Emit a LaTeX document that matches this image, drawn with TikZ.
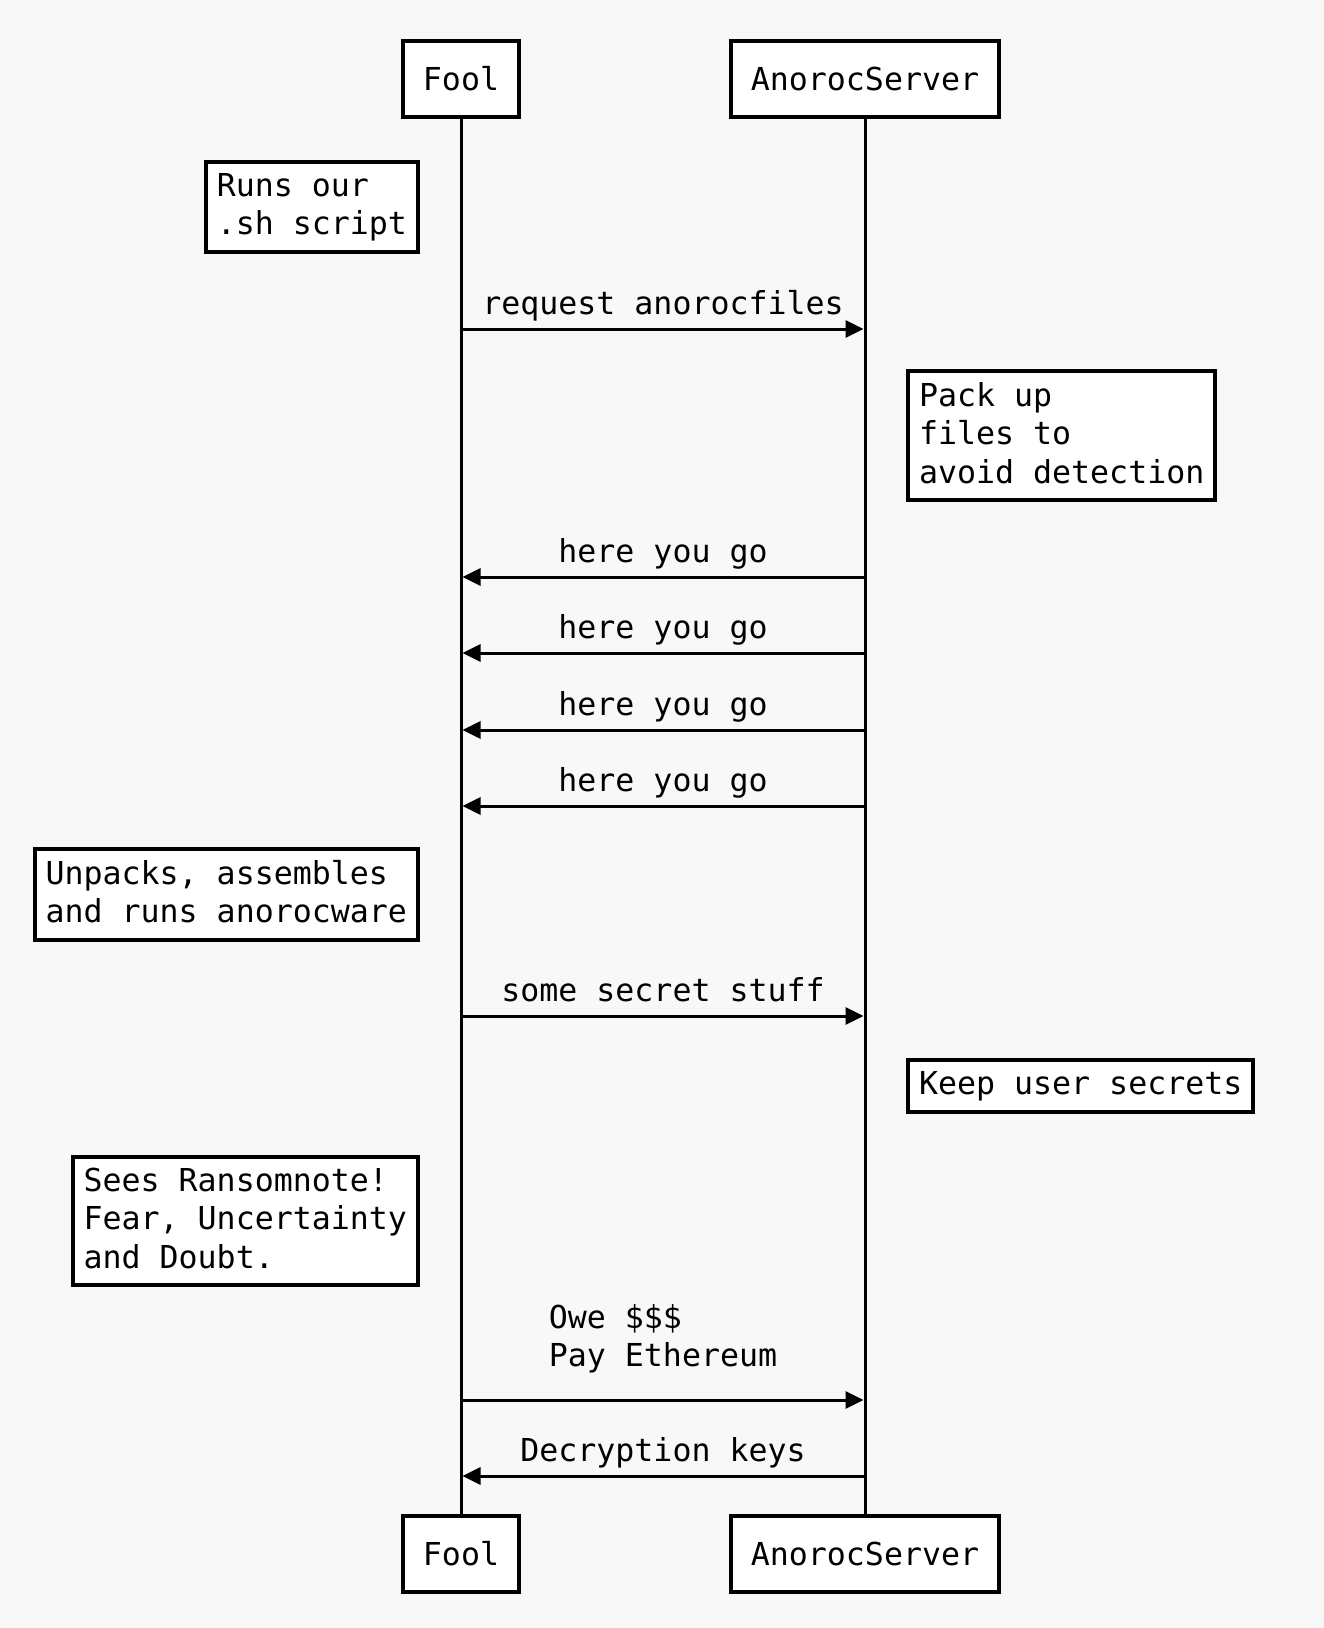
\documentclass[tikz,border=0pt]{standalone}
\usepackage{fontspec}
\setmonofont{DejaVu Sans Mono}
\usetikzlibrary{arrows.meta}
\definecolor{paper}{HTML}{F8F8F8}
\newcommand\seqfont{\ttfamily\fontsize{31.6pt}{38.5pt}\selectfont}
\newcommand\notestrut{\rule[-6pt]{0pt}{28pt}}

\begin{document}
\begin{tikzpicture}[x=1pt, y=-1pt,
	actor/.style={draw, line width=4pt, fill=white, font=\seqfont, minimum height=76pt, inner xsep=20pt},
	note/.style={draw, line width=4pt, fill=white, font=\seqfont, align=left, inner xsep=11pt, inner ysep=11pt,
		execute at begin node=\notestrut, execute at end node=\notestrut},
	msg/.style={line width=3pt, -{Triangle[length=18pt, width=17pt]}, shorten >=1.5pt},
	lbl/.style={font=\seqfont, anchor=base}]
			%%%%% START %%%%%
			
			\fill[paper] (0, 0) rectangle (1324, 1628);
			\useasboundingbox (0, 0) rectangle (1324, 1628);
			
			% participants
			\node[actor] (fool) at (461, 79) {Fool};
			\node[actor] (server) at (865, 79) {AnorocServer};
			\node[actor] (foolB) at (461, 1554) {Fool};
			\node[actor] (serverB) at (865, 1554) {AnorocServer};
			
			\draw[line width=3pt] (fool.south) -- (foolB.north);
			\draw[line width=3pt] (server.south) -- (serverB.north);
			
			% notes
			\node[note, anchor=north east] (runs) at (420, 160) {Runs our\\.sh script};
			\node[note, anchor=north west] (pack) at (906, 369) {Pack up\\files to\\avoid detection};
			\node[note, anchor=north east] (unpack) at (420, 847) {Unpacks, assembles\\and runs anorocware};
			\node[note, anchor=north west] (keep) at (906, 1058) {Keep user secrets};
			\node[note, anchor=north east] (sees) at (420, 1155) {Sees Ransomnote!\\Fear, Uncertainty\\and Doubt.};
			
			% messages
			\coordinate (f1) at (461, 329);   \coordinate (s1) at (865, 329);
			\coordinate (f2) at (461, 577);   \coordinate (s2) at (865, 577);
			\coordinate (f3) at (461, 653);   \coordinate (s3) at (865, 653);
			\coordinate (f4) at (461, 730);   \coordinate (s4) at (865, 730);
			\coordinate (f5) at (461, 806);   \coordinate (s5) at (865, 806);
			\coordinate (f6) at (461, 1016);  \coordinate (s6) at (865, 1016);
			\coordinate (f7) at (461, 1400);  \coordinate (s7) at (865, 1400);
			\coordinate (f8) at (461, 1476);  \coordinate (s8) at (865, 1476);
			
			\draw[msg] (f1) -- (s1) node[lbl, midway, yshift=15pt] (m1) {request anorocfiles};
			\draw[msg] (s2) -- (f2) node[lbl, midway, yshift=15pt] (m2) {here you go};
			\draw[msg] (s3) -- (f3) node[lbl, midway, yshift=15pt] (m3) {here you go};
			\draw[msg] (s4) -- (f4) node[lbl, midway, yshift=15pt] (m4) {here you go};
			\draw[msg] (s5) -- (f5) node[lbl, midway, yshift=15pt] (m5) {here you go};
			\draw[msg] (f6) -- (s6) node[lbl, midway, yshift=15pt] (m6) {some secret stuff};
			\draw[msg] (f7) -- (s7) node[font=\seqfont, align=left, inner sep=0pt, anchor=south, midway, yshift=25pt] (m7) {Owe \$\$\$\\Pay Ethereum};
			\draw[msg] (s8) -- (f8) node[lbl, midway, yshift=15pt] (m8) {Decryption keys};
			
			%%%%% END %%%%%
\end{tikzpicture}
\end{document}
